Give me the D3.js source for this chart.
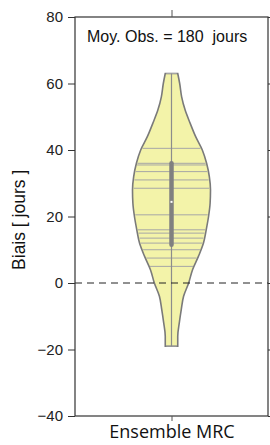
<!DOCTYPE html>
<html>
<head>
<meta charset="utf-8">
<script src="https://cdn.jsdelivr.net/npm/d3@7"></script>
<style>
  html, body { margin: 0; padding: 0; background: #fff; }
  svg { display: block; }
</style>
</head>
<body>
<div id="chart"></div>
<script>
// categories / ticks
const categories = ["Ensemble MRC"];
const yTicks = [-40, -20, 0, 20, 40, 60, 80];

// ensemble members (bias in days), one horizontal line each
const members = [-19, 5, 7.5, 10, 12, 13.5, 15, 16, 20.5, 28.5, 31, 33.5, 35.5, 36, 40.5, 63];

// quartiles / median
const q1 = 11.5, q3 = 36, median = 24.4;

// violin outline: level and relative density
const kdeLevels = [-19, -16, -12, -8, -4, 0, 4, 8, 12, 16, 20, 24, 28, 32, 36, 40, 44, 48, 52, 56, 60, 63];
const kdeDensity = [0.16, 0.16, 0.20, 0.25, 0.31, 0.44, 0.54, 0.69, 0.82, 0.89, 0.95, 0.99, 1.0, 0.97, 0.90, 0.79, 0.62, 0.48, 0.35, 0.26, 0.21, 0.16];

const annotation = "Moy. Obs. = 180  jours";
const yTitle = "Biais [ jours ]";

const W = 270, H = 445;
const margin = {top: 17, right: 2, bottom: 29, left: 75};

const svg = d3.select("#chart").append("svg")
  .attr("width", W).attr("height", H);

const x = d3.scalePoint()
  .domain(categories)
  .range([margin.left, W - margin.right])
  .padding(0.5);

const y = d3.scaleLinear()
  .domain([-40, 80])
  .range([H - margin.bottom, margin.top]);

const w = d3.scaleLinear().domain([0, 1]).range([0, 39]);
const dens = d3.scaleLinear().domain(kdeLevels).range(kdeDensity);

const cx = x(categories[0]);

// violin body
const profile = kdeLevels.map((v, i) => [v, kdeDensity[i]]);
const area = d3.area()
  .y(d => y(d[0]))
  .x0(d => cx - w(d[1]))
  .x1(d => cx + w(d[1]))
  .curve(d3.curveMonotoneY);

svg.append("path")
  .datum(profile)
  .attr("d", area)
  .attr("fill", "#f3f3a9")
  .attr("stroke", "#7a7a7a")
  .attr("stroke-width", 1.6);

// member lines
svg.append("g").selectAll("line")
  .data(members)
  .join("line")
  .attr("x1", d => cx - w(dens(d)) + 1)
  .attr("x2", d => cx + w(dens(d)) - 1)
  .attr("y1", d => y(d)).attr("y2", d => y(d))
  .attr("stroke", "#a6a6a6")
  .attr("stroke-width", 1);

// central line
svg.append("line")
  .attr("x1", cx).attr("x2", cx)
  .attr("y1", y(d3.max(members))).attr("y2", y(d3.min(members)))
  .attr("stroke", "#8c8c8c").attr("stroke-width", 1.2);

// box (IQR)
svg.append("line")
  .attr("x1", cx).attr("x2", cx)
  .attr("y1", y(q3)).attr("y2", y(q1))
  .attr("stroke", "#808080").attr("stroke-width", 4.5)
  .attr("stroke-linecap", "round");

svg.append("rect")
  .attr("x", cx - 1).attr("y", y(median) - 1)
  .attr("width", 2).attr("height", 2)
  .attr("fill", "#fff");

// zero line
svg.append("line")
  .attr("x1", margin.left).attr("x2", W - margin.right)
  .attr("y1", y(0)).attr("y2", y(0))
  .attr("stroke", "#222").attr("stroke-width", 1)
  .attr("stroke-dasharray", "7,5");

// frame
svg.append("rect")
  .attr("x", margin.left).attr("y", margin.top)
  .attr("width", W - margin.right - margin.left)
  .attr("height", H - margin.bottom - margin.top)
  .attr("fill", "none")
  .attr("stroke", "#333").attr("stroke-width", 1.2);

// axes
const yAxis = svg.append("g")
  .attr("transform", `translate(${margin.left},0)`)
  .call(d3.axisLeft(y).tickValues(yTicks).tickSize(7).tickPadding(5));
yAxis.select(".domain").remove();
yAxis.selectAll("text")
  .attr("font-family", "Liberation Sans, Arial, sans-serif")
  .attr("font-size", 15).attr("fill", "#222");
yAxis.selectAll("line").attr("stroke", "#333");

const yAxisR = svg.append("g")
  .attr("transform", `translate(${W - margin.right},0)`)
  .call(d3.axisRight(y).tickValues(yTicks).tickSize(7).tickFormat(""));
yAxisR.select(".domain").remove();
yAxisR.selectAll("line").attr("stroke", "#333");

const xTop = svg.append("g")
  .attr("transform", `translate(0,${margin.top})`)
  .call(d3.axisTop(x).tickSize(7).tickFormat(""));
xTop.select(".domain").remove();
xTop.selectAll("line").attr("stroke", "#555");

const xAxis = svg.append("g")
  .attr("transform", `translate(0,${H - margin.bottom})`)
  .call(d3.axisBottom(x).tickSize(5).tickPadding(4));
xAxis.select(".domain").remove();
xAxis.selectAll("line").attr("stroke", "#555");
xAxis.selectAll("text")
  .attr("font-family", "Open Sans, sans-serif")
  .attr("font-size", 18).attr("fill", "#111");

// annotation
svg.append("text")
  .attr("x", 87).attr("y", 42)
  .attr("font-family", "Liberation Sans, Arial, sans-serif")
  .attr("font-size", 16).attr("fill", "#111")
  .attr("xml:space", "preserve")
  .style("white-space", "pre")
  .text(annotation);

// y title
svg.append("text")
  .attr("transform", `translate(25,${y(19)}) rotate(-90)`)
  .attr("text-anchor", "middle")
  .attr("font-family", "Liberation Sans, Arial, sans-serif")
  .attr("font-size", 17.5).attr("fill", "#111")
  .style("white-space", "pre")
  .text(yTitle);
</script>
</body>
</html>
